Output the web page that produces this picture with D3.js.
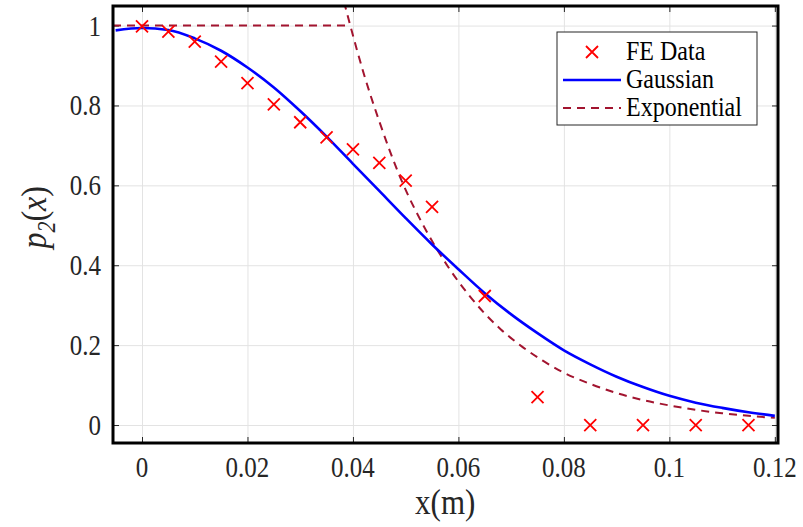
<!DOCTYPE html>
<html>
<head>
<meta charset="utf-8">
<script src="https://cdn.jsdelivr.net/npm/d3@7"></script>
<style>
  body { margin: 0; background: #fff; }
  text { font-family: "Liberation Serif", serif; fill: #262626; }
</style>
</head>
<body>
<div id="chart"></div>
<script>
// chart values
const feX = [0, 0.005, 0.01, 0.015, 0.02, 0.025, 0.03, 0.035, 0.04, 0.045, 0.05, 0.055, 0.065, 0.075, 0.085, 0.095, 0.105, 0.115];
const feY = [0.998, 0.985, 0.96, 0.91, 0.856, 0.803, 0.758, 0.72, 0.69, 0.656, 0.612, 0.546, 0.323, 0.07, 0, 0, 0, 0];

const gaussX = [-0.005, 0, 0.005, 0.01, 0.015, 0.02, 0.025, 0.03, 0.035, 0.04, 0.045, 0.05, 0.055, 0.06, 0.065, 0.07, 0.075, 0.08, 0.085, 0.09, 0.095, 0.1, 0.105, 0.11, 0.115, 0.12];
const gaussY = [0.988, 0.994, 0.989, 0.968, 0.937, 0.895, 0.845, 0.786, 0.722, 0.654, 0.586, 0.518, 0.452, 0.39, 0.33, 0.277, 0.23, 0.187, 0.152, 0.121, 0.095, 0.073, 0.056, 0.043, 0.032, 0.023];

const flatX = [-0.0055, 0.0395];
const flatY = [1, 1];
const expX = [0.0383, 0.0395, 0.042, 0.045, 0.0489, 0.054, 0.058, 0.062, 0.065, 0.068, 0.072, 0.076, 0.08, 0.085, 0.09, 0.095, 0.1, 0.105, 0.11, 0.115, 0.12];
const expY = [1.06, 1.0, 0.882, 0.76, 0.622, 0.484, 0.397, 0.325, 0.279, 0.24, 0.197, 0.161, 0.131, 0.103, 0.08, 0.0625, 0.049, 0.038, 0.0295, 0.023, 0.018];

const xTicks = [0, 0.02, 0.04, 0.06, 0.08, 0.1, 0.12];
const xTickLabels = ["0", "0.02", "0.04", "0.06", "0.08", "0.1", "0.12"];
const yTicks = [0, 0.2, 0.4, 0.6, 0.8, 1];
const yTickLabels = ["0", "0.2", "0.4", "0.6", "0.8", "1"];

const legendNames = ["FE Data", "Gaussian", "Exponential"];

// layout
const W = 803, H = 527;
const margin = {left: 113, top: 6, right: 25, bottom: 84};
const pw = W - margin.left - margin.right, ph = H - margin.top - margin.bottom;

const blue = "#0000ff", red = "#ff0000", dark = "#a2142f";

let svg = d3.select("#chart").append("svg")
    .attr("width", W)
    .attr("height", H);

let g = svg.append("g")
    .attr("transform", `translate(${margin.left}, ${margin.top})`);

let x = d3.scaleLinear().domain([-0.0055, 0.1206]).range([0, pw]);
let y = d3.scaleLinear().domain([-0.045, 1.049]).range([ph, 0]);

// grid
g.append("g")
    .attr("transform", `translate(0, ${ph})`)
    .call(d3.axisBottom(x).tickValues(xTicks).tickSize(-ph).tickFormat(""))
    .call(a => a.select(".domain").remove())
    .call(a => a.selectAll("line").attr("stroke", "#e3e3e3"));
g.append("g")
    .call(d3.axisLeft(y).tickValues(yTicks).tickSize(-pw).tickFormat(""))
    .call(a => a.select(".domain").remove())
    .call(a => a.selectAll("line").attr("stroke", "#e3e3e3"));

// inward ticks on all four sides
function tickStyle(a) {
    a.select(".domain").remove();
    a.selectAll("line").attr("stroke", "#262626");
}
g.append("g").attr("transform", `translate(0, ${ph})`)
    .call(d3.axisBottom(x).tickValues(xTicks).tickSize(-6).tickFormat(""))
    .call(tickStyle);
g.append("g")
    .call(d3.axisTop(x).tickValues(xTicks).tickSize(-6).tickFormat(""))
    .call(tickStyle);
g.append("g")
    .call(d3.axisLeft(y).tickValues(yTicks).tickSize(-6).tickFormat(""))
    .call(tickStyle);
g.append("g").attr("transform", `translate(${pw}, 0)`)
    .call(d3.axisRight(y).tickValues(yTicks).tickSize(-6).tickFormat(""))
    .call(tickStyle);

// tick labels (font is tall and narrow in the original, so stretch a bit)
g.selectAll(".xlab").data(xTicks).enter().append("text")
    .attr("transform", d => `translate(${x(d)}, ${ph + 34}) scale(1, 1.2)`)
    .style("text-anchor", "middle")
    .style("font-size", "25px")
    .text((d, i) => xTickLabels[i]);
g.selectAll(".ylab").data(yTicks).enter().append("text")
    .attr("transform", d => `translate(-12, ${y(d) + 10}) scale(1, 1.2)`)
    .style("text-anchor", "end")
    .style("font-size", "25px")
    .text((d, i) => yTickLabels[i]);

// clip
svg.append("defs").append("clipPath").attr("id", "clip")
    .append("rect").attr("width", pw).attr("height", ph);
let plot = g.append("g").attr("clip-path", "url(#clip)");

let line = d3.line()
    .x(d => x(d[0]))
    .y(d => y(d[1]))
    .curve(d3.curveMonotoneX);

let gaussData = gaussX.map((v, i) => [v, gaussY[i]]);
let flatData = flatX.map((v, i) => [v, flatY[i]]);
let expData = expX.map((v, i) => [v, expY[i]]);
let feData = feX.map((v, i) => [v, feY[i]]);

plot.append("path")
    .datum(flatData)
    .attr("d", d3.line().x(d => x(d[0])).y(d => y(d[1])))
    .attr("fill", "none")
    .attr("stroke", dark)
    .attr("stroke-width", 2)
    .attr("stroke-dasharray", "8,6");
plot.append("path")
    .datum(expData)
    .attr("d", line)
    .attr("fill", "none")
    .attr("stroke", dark)
    .attr("stroke-width", 2)
    .attr("stroke-dasharray", "8,6");
plot.append("path")
    .datum(gaussData)
    .attr("d", line)
    .attr("fill", "none")
    .attr("stroke", blue)
    .attr("stroke-width", 2.6);

// FE markers
plot.selectAll(".fe").data(feData).enter().append("path")
    .attr("transform", d => `translate(${x(d[0])}, ${y(d[1])})`)
    .attr("d", "M-6,-6L6,6M-6,6L6,-6")
    .attr("stroke", red)
    .attr("stroke-width", 1.8)
    .attr("fill", "none");

// box
g.append("rect")
    .attr("width", pw)
    .attr("height", ph)
    .attr("fill", "none")
    .attr("stroke", "#000")
    .attr("stroke-width", 3);

// axis labels
svg.append("text")
    .attr("transform", `translate(${margin.left + x(0.0575)}, 514) scale(1, 1.15)`)
    .style("text-anchor", "middle")
    .style("font-size", "31px")
    .text("x(m)");

let yl = svg.append("text")
    .attr("transform", `translate(46, ${margin.top + y(0.52)}) rotate(-90) scale(1, 1.1)`)
    .style("text-anchor", "middle")
    .style("font-size", "32px");
yl.append("tspan").style("font-style", "italic").text("p");
yl.append("tspan").attr("dy", 8).style("font-size", "22px").style("font-style", "italic").text("2");
yl.append("tspan").attr("dy", -8).text("(");
yl.append("tspan").style("font-style", "italic").text("x");
yl.append("tspan").text(")");

// legend
let lg = svg.append("g").attr("transform", "translate(557, 32)");
lg.append("rect")
    .attr("width", 200)
    .attr("height", 93)
    .attr("fill", "#fff")
    .attr("stroke", "#262626")
    .attr("stroke-width", 1);
let rowY = [20, 48, 76];
lg.append("path")
    .attr("d", `M29,${rowY[0] - 6}L41,${rowY[0] + 6}M29,${rowY[0] + 6}L41,${rowY[0] - 6}`)
    .attr("stroke", red).attr("stroke-width", 1.8);
lg.append("line")
    .attr("x1", 6).attr("x2", 64).attr("y1", rowY[1]).attr("y2", rowY[1])
    .attr("stroke", blue).attr("stroke-width", 2.6);
lg.append("line")
    .attr("x1", 6).attr("x2", 64).attr("y1", rowY[2]).attr("y2", rowY[2])
    .attr("stroke", dark).attr("stroke-width", 2).attr("stroke-dasharray", "8,6");
lg.selectAll(".lt").data(legendNames).enter().append("text")
    .attr("transform", (d, i) => `translate(69, ${rowY[i] + 8}) scale(1, 1.1)`)
    .style("font-size", "24px")
    .style("fill", "#000")
    .text(d => d);
</script>
</body>
</html>
